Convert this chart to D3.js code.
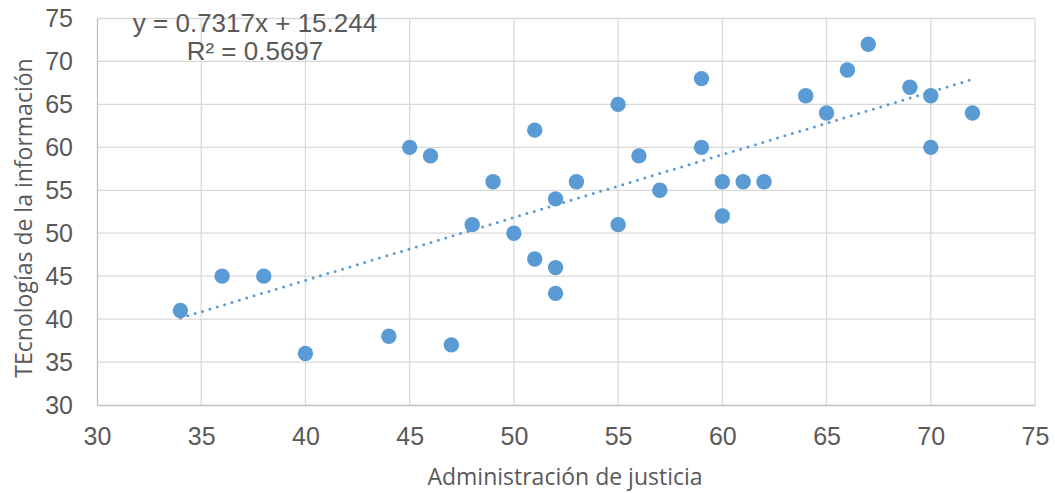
<!DOCTYPE html>
<html><head><meta charset="utf-8">
<script src="https://cdn.jsdelivr.net/npm/d3@7"></script>
<style>body{margin:0;background:#fff}</style>
</head><body>
<svg id="c" width="1055" height="493"></svg>
<script>
const xVals = [34,36,38,40,44,45,46,47,48,49,50,51,51,52,52,52,53,55,55,56,57,59,59,60,60,61,62,64,65,66,67,69,70,70,72];
const yVals = [41,45,45,36,38,60,59,37,51,56,50,62,47,54,46,43,56,65,51,59,55,68,60,56,52,56,56,66,64,69,72,67,66,60,64];
const xTicks = [30,35,40,45,50,55,60,65,70,75];
const yTicks = [30,35,40,45,50,55,60,65,70,75];
const slope = 0.7317, intercept = 15.244;
const eqLabel = "y = 0.7317x + 15.244";
const r2Label = "R² = 0.5697";
const xTitle = "Administración de justicia";
const yTitle = "TEcnologías de la información";

const svg = d3.select("#c");
const L=97, R=1035, T=18.5, B=405;
const x = d3.scaleLinear().domain([30,75]).range([L,R]);
const y = d3.scaleLinear().domain([30,75]).range([B,T]);
const g = svg.append("g");
// grid
g.selectAll(".vg").data(xTicks.slice(1)).enter().append("line")
 .attr("x1",d=>x(d)).attr("x2",d=>x(d)).attr("y1",T).attr("y2",B)
 .attr("stroke","#d9d9d9").attr("stroke-width",1.3);
g.selectAll(".hg").data(yTicks.slice(1)).enter().append("line")
 .attr("x1",L).attr("x2",R).attr("y1",d=>y(d)).attr("y2",d=>y(d))
 .attr("stroke","#d9d9d9").attr("stroke-width",1.3);
// axes
const xa = svg.append("g").attr("transform",`translate(0,${B})`)
 .call(d3.axisBottom(x).tickValues(xTicks).tickSize(0).tickPadding(22));
const ya = svg.append("g").attr("transform",`translate(${L},0)`)
 .call(d3.axisLeft(y).tickValues(yTicks).tickSize(0).tickPadding(24));
[xa,ya].forEach(a=>{
 a.select(".domain").attr("stroke","#bfbfbf").attr("stroke-width",1.3);
 a.selectAll("text").attr("font-family","Liberation Sans, Arial").attr("font-size",25).attr("fill","#595959");
});
// trendline
svg.append("line")
 .attr("x1",x(34)).attr("y1",y(slope*34+intercept))
 .attr("x2",x(72)).attr("y2",y(slope*72+intercept))
 .attr("stroke","#5b9bd5").attr("stroke-width",3)
 .attr("stroke-linecap","round").attr("stroke-dasharray","0 7.7");
// points
svg.selectAll(".pt").data(xVals.map((d,i)=>[d,yVals[i]])).enter().append("circle")
 .attr("cx",d=>x(d[0])).attr("cy",d=>y(d[1])).attr("r",7.7)
 .attr("fill","#5b9bd5");
// equation
svg.append("text").attr("x",255).attr("y",32).attr("text-anchor","middle")
 .attr("font-family","Liberation Sans, Arial").attr("font-size",26).attr("fill","#595959").text(eqLabel);
svg.append("text").attr("x",255).attr("y",60).attr("text-anchor","middle")
 .attr("font-family","Liberation Sans, Arial").attr("font-size",26).attr("fill","#595959").text(r2Label);
// titles
svg.append("text").attr("x",565).attr("y",485).attr("text-anchor","middle")
 .attr("font-family","Open Sans").attr("font-size",23).attr("fill","#595959").text(xTitle);
svg.append("text").attr("transform","translate(32,218) rotate(-90)").attr("text-anchor","middle")
 .attr("font-family","Open Sans").attr("font-size",23).attr("fill","#595959").text(yTitle);
</script>
</body></html>
